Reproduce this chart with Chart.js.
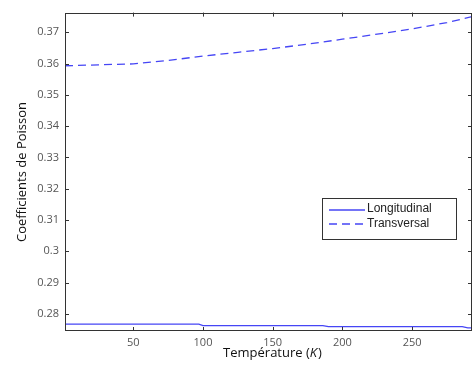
<!DOCTYPE html>
<html>
<head>
<meta charset="utf-8">
<script src="https://cdn.jsdelivr.net/npm/chart.js@4/dist/chart.umd.min.js"></script>
<style>
  body { margin: 0; background: #fff; }
  #wrap { width: 473px; height: 371px; position: relative; }
</style>
</head>
<body>
<div id="wrap"><canvas id="chart"></canvas></div>
<script>
// Coefficients de Poisson en fonction de la température

var tempLong = [1, 97, 100, 186, 190, 286, 290, 293];
var longitudinal = [0.2767, 0.2767, 0.2762, 0.2762, 0.2759, 0.2759, 0.2755, 0.2755];

var tempTrans = [1, 25, 50, 75, 100, 125, 150, 175, 200, 225, 250, 275, 293];
var transversal = [0.3593, 0.3596, 0.3599, 0.3610, 0.3624, 0.3636, 0.3648, 0.3662, 0.3678, 0.3694, 0.3711, 0.3731, 0.3750];

var xTicks = [50, 100, 150, 200, 250];
var yTicks = [0.28, 0.29, 0.30, 0.31, 0.32, 0.33, 0.34, 0.35, 0.36, 0.37];

var seriesNames = ['Longitudinal', 'Transversal'];
var lineColor = 'rgb(70, 70, 245)';

function toPoints(xs, ys) {
    return xs.map(function(x, i) { return { x: x, y: ys[i] }; });
}

// cadre, graduations internes, titres et légende façon MATLAB
var framePlugin = {
    id: 'frame',
    afterDraw: function(chart) {
        var ctx = chart.ctx;
        var ca = chart.chartArea;
        var xs = chart.scales.x;
        var ys = chart.scales.y;
        ctx.save();
        ctx.strokeStyle = '#333';
        ctx.lineWidth = 1;
        ctx.strokeRect(Math.round(ca.left) + 0.5, Math.round(ca.top) + 0.5,
            Math.round(ca.right - ca.left) - 1, Math.round(ca.bottom - ca.top) - 1);
        ctx.beginPath();
        xTicks.forEach(function(v) {
            var px = Math.round(xs.getPixelForValue(v)) + 0.5;
            ctx.moveTo(px, ca.bottom); ctx.lineTo(px, ca.bottom - 4);
            ctx.moveTo(px, ca.top); ctx.lineTo(px, ca.top + 4);
        });
        yTicks.forEach(function(v) {
            var py = Math.round(ys.getPixelForValue(v)) + 0.5;
            ctx.moveTo(ca.left, py); ctx.lineTo(ca.left + 4, py);
            ctx.moveTo(ca.right, py); ctx.lineTo(ca.right - 4, py);
        });
        ctx.stroke();

        // titre de l'axe x avec K en italique
        ctx.fillStyle = '#111';
        ctx.textBaseline = 'middle';
        var f1 = "13px 'Open Sans'";
        var f2 = "italic 13px 'Open Sans'";
        var a = 'Température (', b = 'K', c = ')';
        ctx.font = f1; var wa = ctx.measureText(a).width; var wc = ctx.measureText(c).width;
        ctx.font = f2; var wb = ctx.measureText(b).width;
        var x0 = 272 - (wa + wb + wc) / 2;
        var yT = 353;
        ctx.font = f1; ctx.textAlign = 'left'; ctx.fillText(a, x0, yT);
        ctx.font = f2; ctx.fillText(b, x0 + wa, yT);
        ctx.font = f1; ctx.fillText(c, x0 + wa + wb + 1, yT);

        // titre de l'axe y
        ctx.save();
        ctx.translate(22, 172);
        ctx.rotate(-Math.PI / 2);
        ctx.textAlign = 'center';
        ctx.font = "13px 'Open Sans'";
        ctx.fillText('Coefficients de Poisson', 0, 0);
        ctx.restore();

        // légende
        var lx = 322, ly = 198, lw = 134, lh = 41;
        ctx.fillStyle = '#fff';
        ctx.fillRect(lx, ly, lw, lh);
        ctx.strokeStyle = '#333';
        ctx.strokeRect(lx + 0.5, ly + 0.5, lw, lh);
        ctx.strokeStyle = lineColor;
        ctx.lineWidth = 1.3;
        ctx.beginPath(); ctx.moveTo(329, 210); ctx.lineTo(365, 210); ctx.stroke();
        ctx.setLineDash([8, 5]);
        ctx.beginPath(); ctx.moveTo(329, 224); ctx.lineTo(365, 224); ctx.stroke();
        ctx.setLineDash([]);
        ctx.fillStyle = '#222';
        ctx.font = "12px 'Liberation Sans'";
        ctx.textAlign = 'left';
        ctx.fillText(seriesNames[0], 367, 209);
        ctx.fillText(seriesNames[1], 367, 224);
        ctx.restore();
    }
};

new Chart(document.getElementById('chart').getContext('2d'), {
    type: 'line',
    data: {
        datasets: [
            {
                label: seriesNames[0],
                data: toPoints(tempLong, longitudinal),
                borderColor: lineColor,
                borderWidth: 1.3,
                pointRadius: 0,
                tension: 0,
                fill: false,
            },
            {
                label: seriesNames[1],
                data: toPoints(tempTrans, transversal),
                borderColor: lineColor,
                borderWidth: 1.3,
                borderDash: [8, 5],
                pointRadius: 0,
                tension: 0,
                fill: false,
            },
        ],
    },
    options: {
        responsive: true,
        maintainAspectRatio: false,
        animation: false,
        layout: { padding: { left: 0, right: 1, top: 9, bottom: 0 } },
        plugins: {
            legend: { display: false },
            tooltip: { enabled: false },
        },
        scales: {
            x: {
                type: 'linear',
                min: 1,
                max: 293,
                grid: { display: false, drawTicks: false },
                border: { display: false },
                afterBuildTicks: function(scale) {
                    scale.ticks = xTicks.map(function(v) { return { value: v }; });
                },
                afterFit: function(scale) { scale.height = 40; },
                ticks: {
                    padding: 5,
                    color: '#555',
                    font: { family: 'Open Sans', size: 11 },
                    maxRotation: 0,
                    callback: function(v) { return String(v); },
                },
            },
            y: {
                type: 'linear',
                min: 0.2745,
                max: 0.3763,
                grid: { display: false, drawTicks: false },
                border: { display: false },
                afterBuildTicks: function(scale) {
                    scale.ticks = yTicks.map(function(v) { return { value: v }; });
                },
                afterFit: function(scale) { scale.width = 65; },
                ticks: {
                    padding: 6,
                    color: '#555',
                    font: { family: 'Open Sans', size: 11 },
                    callback: function(v) { return String(Number(v.toFixed(2))); },
                },
            },
        },
    },
    plugins: [framePlugin],
});
</script>
</body>
</html>
